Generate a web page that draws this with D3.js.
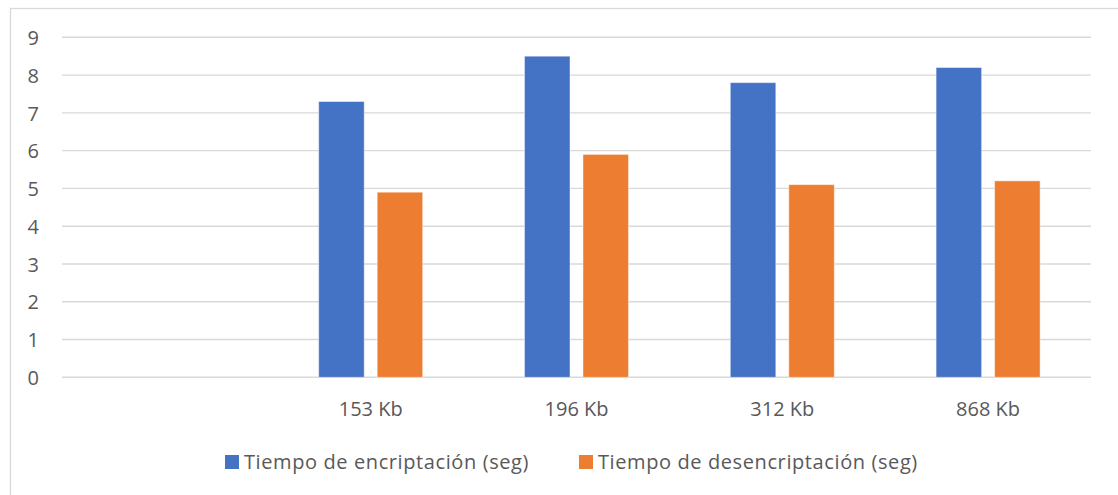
<!DOCTYPE html>
<html>
<head>
<meta charset="utf-8">
<script src="https://cdn.jsdelivr.net/npm/d3@7"></script>
<style>
  html, body { margin: 0; padding: 0; background: #fff; }
  svg { display: block; }
  text { font-family: "Open Sans", sans-serif; fill: #595959; }
</style>
</head>
<body>
<svg id="chart" width="1118" height="495"></svg>
<script>
const categories = ["", "153 Kb", "196 Kb", "312 Kb", "868 Kb"];
const seriesNames = ["Tiempo de encriptación (seg)", "Tiempo de desencriptación (seg)"];
const encriptacion = [null, 7.3, 8.5, 7.8, 8.2];
const desencriptacion = [null, 4.9, 5.9, 5.1, 5.2];
const yTicks = [0, 1, 2, 3, 4, 5, 6, 7, 8, 9];
const colors = ["#4472C4", "#ED7D31"];

(function () {
const svg = d3.select("#chart");
const W = 1118, H = 495;
const pLeft = 62, pRight = 1091, pTop = 37.3, pBottom = 377.3;

// outer chart border
svg.append("rect")
  .attr("x", 10.5).attr("y", 8.5)
  .attr("width", W + 20).attr("height", H + 20)
  .attr("fill", "none").attr("stroke", "#d9d9d9").attr("stroke-width", 1.3);

const x0 = d3.scaleBand().domain(categories).range([pLeft, pRight]).padding(0);
const x1 = d3.scaleBand().domain(seriesNames).range([0, x0.bandwidth()])
  .paddingInner(0.222).paddingOuter(0.87);
const y = d3.scaleLinear().domain([0, 9]).range([pBottom, pTop]);

// gridlines
svg.append("g").selectAll("line").data(yTicks).join("line")
  .attr("x1", pLeft).attr("x2", pRight)
  .attr("y1", d => y(d)).attr("y2", d => y(d))
  .attr("stroke", "#d9d9d9").attr("stroke-width", 1.4);

// y axis labels
const yAxis = d3.axisLeft(y).tickValues(yTicks).tickSize(0).tickPadding(0).tickFormat(d3.format("d"));
const gy = svg.append("g").attr("transform", `translate(${39},0)`).call(yAxis);
gy.select(".domain").remove();
gy.selectAll("text").attr("font-size", 20).attr("fill", "#595959")
  .style("font-family", "'Open Sans', sans-serif").attr("dy", "0.36em");

// bars
const rows = categories.map((c, i) => ({ cat: c, vals: [encriptacion[i], desencriptacion[i]] }));
const g = svg.append("g");
rows.forEach(r => {
  r.vals.forEach((v, j) => {
    if (v == null) return;
    g.append("rect")
      .attr("x", x0(r.cat) + x1(seriesNames[j]))
      .attr("y", y(v))
      .attr("width", x1.bandwidth())
      .attr("height", y(0) - y(v))
      .attr("fill", colors[j])
      .attr("stroke", "#ffffff").attr("stroke-opacity", 0.45).attr("stroke-width", 1);
  });
});

// x axis labels
const xAxis = d3.axisBottom(x0).tickSize(0).tickPadding(0);
const gx = svg.append("g").attr("transform", `translate(0,${415.5})`).call(xAxis);
gx.select(".domain").remove();
gx.selectAll("text").attr("font-size", 20).attr("fill", "#595959")
  .style("font-family", "'Open Sans', sans-serif").attr("dy", 0).attr("y", 0);

// legend
const legendX = [225, 579];
const lg = svg.append("g");
seriesNames.forEach((s, i) => {
  lg.append("rect").attr("x", legendX[i]).attr("y", 455).attr("width", 14).attr("height", 14)
    .attr("fill", colors[i]);
  lg.append("text").attr("x", legendX[i] + 19).attr("y", 469)
    .attr("font-size", 20).attr("letter-spacing", 0.6).text(s);
});
})();
</script>
</body>
</html>
